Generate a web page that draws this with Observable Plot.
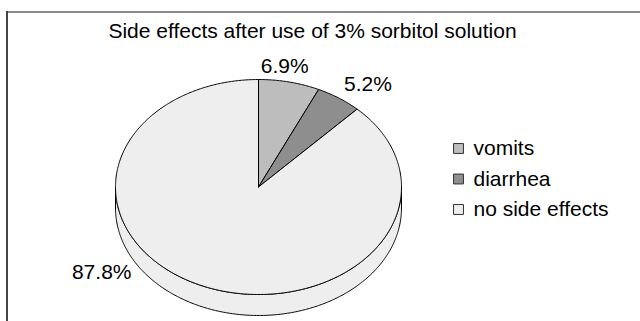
<!DOCTYPE html>
<html>
<head>
<meta charset="utf-8">
<script src="https://cdn.jsdelivr.net/npm/d3@7"></script>
<script src="https://cdn.jsdelivr.net/npm/@observablehq/plot@0.6"></script>
<style>
  html, body { margin: 0; padding: 0; background: #fff; }
  #chart svg { display: block; }
</style>
</head>
<body>
<div id="chart"></div>
<script>
// ---- data ----
const title = "Side effects after use of 3% sorbitol solution";
const categories = ["vomits", "diarrhea", "no side effects"];
const values = [6.9, 5.2, 87.8];
const labels = ["6.9%", "5.2%", "87.8%"];
const colors = ["#bdbdbd", "#8e8e8e", "#eeeeee"];

// ---- layout (styles) ----
const W = 640, H = 321;
const frameLeft = 6, frameTop = 11;
const cx = 258, cy = 186.5, rx = 143, ry = 107.5, depth = 21;
const gap = 9, labelBottom = 282;
const font = "Liberation Sans, Arial, Helvetica, sans-serif";
const fontSize = 21;
const legendX = 458, legendY0 = 148, legendStep = 30.5;

const arcs = d3.pie().sort(null).value(d => d)(values);

function arcPoints(a0, a1, dz) {
  const n = Math.max(2, Math.ceil(Math.abs(a1 - a0) / 0.01));
  const pts = [];
  for (let k = 0; k <= n; k++) {
    const a = a0 + (a1 - a0) * k / n;
    pts.push({x: cx + rx * Math.sin(a), y: cy - ry * Math.cos(a) + dz});
  }
  return pts;
}

// side wall (front half)
const wall = [
  ...arcPoints(Math.PI / 2, 3 * Math.PI / 2, 0),
  ...arcPoints(3 * Math.PI / 2, Math.PI / 2, depth)
];
wall.push(wall[0]);

// top slices
const sliceRows = [];
arcs.forEach((a, i) => {
  const pts = [{x: cx, y: cy}, ...arcPoints(a.startAngle, a.endAngle, 0), {x: cx, y: cy}];
  pts.forEach(p => sliceRows.push({...p, slice: categories[i], color: colors[i]}));
});

// labels
const labelRows = arcs.map((a, i) => {
  const t = (a.startAngle + a.endAngle) / 2;
  const s = Math.sin(t), c = Math.cos(t);
  const dz = c < 0 ? depth : 0;
  let x = cx + (rx + gap) * s;
  let y = cy - (ry + gap) * c + dz;
  let textAnchor = s > 0.3 ? "start" : s < -0.3 ? "end" : "middle";
  let lineAnchor = c > 0.3 ? "bottom" : c < -0.3 ? "top" : "middle";
  if (textAnchor === "middle") x -= 0.1 * (rx + gap) * s * 2; // lean toward the centre line
  if (lineAnchor === "top" && y + fontSize > labelBottom) {
    y = labelBottom - fontSize / 2;
    lineAnchor = "middle";
    const u = (y - cy - dz) / (ry + gap);
    x = cx + Math.sign(s) * (rx + gap) * Math.sqrt(Math.max(0, 1 - u * u));
    textAnchor = s < 0 ? "end" : "start";
  }
  return {x, y, text: labels[i], textAnchor, lineAnchor};
});

const chart = Plot.plot({
  width: W,
  height: H,
  marginTop: frameTop,
  marginLeft: frameLeft,
  marginRight: 0,
  marginBottom: 0,
  x: {domain: [frameLeft, W], axis: null},
  y: {domain: [frameTop, H], reverse: true, axis: null},
  color: {type: "identity"},
  style: {fontFamily: font, background: "#fff", overflow: "visible"},
  marks: [
    Plot.ruleY([frameTop + 0.5], {stroke: "#888", strokeWidth: 2}),
    Plot.ruleX([frameLeft + 0.5], {stroke: "#444", strokeWidth: 2}),
    Plot.text([title], {x: 312, y: 30.5, text: d => d, fontSize: fontSize, fill: "#000"}),
    Plot.line(wall, {x: "x", y: "y", fill: "#eeeeee", stroke: "#000", strokeWidth: 1, curve: "linear"}),
    Plot.line(sliceRows, {x: "x", y: "y", z: "slice", fill: "color", stroke: "#000", strokeWidth: 1, strokeLinejoin: "round", curve: "linear"}),
    ...labelRows.map(d => Plot.text([d], {x: "x", y: "y", text: "text", textAnchor: d.textAnchor, lineAnchor: d.lineAnchor, fontSize: fontSize, fill: "#000"})),
    Plot.dot(categories, {x: legendX, y: (d, i) => legendY0 + i * legendStep, symbol: "square", r: 5.6, fill: (d, i) => colors[i], stroke: "#333", strokeWidth: 1}),
    Plot.text(categories, {x: legendX + 15, y: (d, i) => legendY0 + i * legendStep, text: d => d, textAnchor: "start", fontSize: fontSize, fill: "#000"})
  ]
});
document.getElementById("chart").appendChild(chart);
</script>
</body>
</html>
